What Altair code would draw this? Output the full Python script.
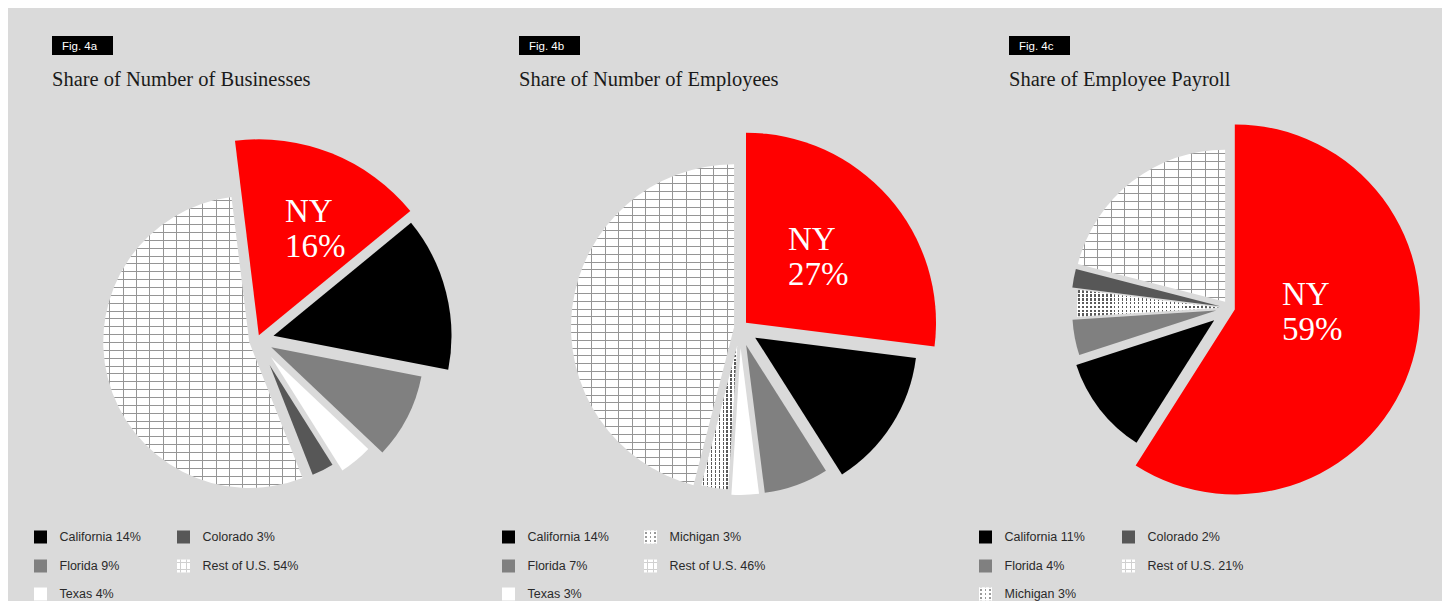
import math
import altair as alt
import pandas as pd

# ---------------- data ----------------
FIG_IDS = ["4a", "4b", "4c"]
FIG_LABELS = ["Fig. 4a", "Fig. 4b", "Fig. 4c"]
TITLES = ["Share of Number of Businesses", "Share of Number of Employees", "Share of Employee Payroll"]

STATES_4A = ["NY", "California", "Florida", "Texas", "Colorado", "Rest of U.S."]
SHARES_4A = [16, 14, 9, 4, 3, 54]
STATES_4B = ["NY", "California", "Florida", "Texas", "Michigan", "Rest of U.S."]
SHARES_4B = [27, 14, 7, 3, 3, 46]
STATES_4C = ["NY", "California", "Florida", "Michigan", "Colorado", "Rest of U.S."]
SHARES_4C = [59, 11, 4, 3, 2, 21]

STATES = {"4a": STATES_4A, "4b": STATES_4B, "4c": STATES_4C}
SHARES = {"4a": SHARES_4A, "4b": SHARES_4B, "4c": SHARES_4C}

# ---------------- style / layout ----------------
PAGE_W, PAGE_H, M = 1450, 609, 8
W, H = PAGE_W - 2 * M, PAGE_H - 2 * M
BG = "#DADADA"

FILL = {"NY": "#FF0000", "California": "#000000", "Florida": "#808080", "Texas": "#FFFFFF",
        "Colorado": "#575757", "Michigan": "#FFFFFF", "Rest of U.S.": "#FFFFFF"}
PATTERN = {"Michigan": "dots", "Rest of U.S.": "grid"}

LAYOUT = {
    "4a": dict(cx=257, cy=340, rot=-7.0, title_x=52, ny_x=285, ny_y=222, leg_x=[34, 177]),
    "4b": dict(cx=740, cy=328, rot=0.0, title_x=519, ny_x=788, ny_y=250, leg_x=[502, 644]),
    "4c": dict(cx=1230, cy=308, rot=0.0, title_x=1009, ny_x=1282, ny_y=305, leg_x=[979, 1122]),
}
# per slice: (outer radius px, explode distance px)
SLICE_STYLE = {
    "4a": {"NY": (196, 5), "California": (178, 17), "Florida": (153, 16), "Texas": (134, 22),
           "Colorado": (118, 28), "Rest of U.S.": (146, 8)},
    "4b": {"NY": (190, 8), "California": (162, 18), "Florida": (149, 18), "Texas": (147, 20),
           "Michigan": (144, 18), "Rest of U.S.": (163, 6)},
    "4c": {"NY": (185, 5), "California": (145, 20), "Florida": (144, 14), "Michigan": (143, 10),
           "Colorado": (149, 10), "Rest of U.S.": (152, 8)},
}
LEG_ROWS = [537, 566, 594]
SW = 13  # legend swatch size
GRID_DX, GRID_DY = 13.3, 7.8
GRID_COLOR = "#959595"
DOT_COLOR = "#5a5a5a"
CLEAR = "rgba(255,255,255,0)"

XS = alt.Scale(domain=[M, PAGE_W - M], range=[0, W], nice=False, zero=False)
YS = alt.Scale(domain=[M, PAGE_H - M], range=[0, H], nice=False, zero=False)
TS = alt.Scale(domain=[0, 100], range=[0, 2 * math.pi], nice=False, zero=False)
RS = alt.Scale(type="linear", domain=[0, 400], range=[0, 400], nice=False, zero=True)
CS = alt.Scale(domain=list(FILL.keys()), range=list(FILL.values()))


def stripes(n, frac, bg, fg, along_x):
    pts = [(0.0, bg)]
    for i in range(n):
        c = (i + 0.5) / n
        a, b = max(0.0, c - frac / 2), min(1.0, c + frac / 2)
        pts += [(a, bg), (a, fg), (b, fg), (b, bg)]
    pts.append((1.0, bg))
    return alt.Gradient(gradient="linear",
                        stops=[alt.GradientStop(offset=round(o, 5), color=col) for o, col in pts],
                        x1=0, y1=0, x2=1 if along_x else 0, y2=0 if along_x else 1)


def sector_bbox(ax, ay, r, a0, a1):
    xs, ys = [ax], [ay]
    for k in range(121):
        a = a0 + (a1 - a0) * k / 120
        xs.append(ax + r * math.sin(a))
        ys.append(ay - r * math.cos(a))
    return max(xs) - min(xs), max(ys) - min(ys)


# ---------------- tables ----------------
rows = []
for fig in FIG_IDS:
    L = LAYOUT[fig]
    for i, (s, v) in enumerate(zip(STATES[fig], SHARES[fig])):
        r, d = SLICE_STYLE[fig][s]
        rows.append(dict(fig=fig, state=s, share=v, order=i, r=r, d=d, cx=L["cx"], cy=L["cy"],
                         rot=L["rot"] / 360 * 100))
slices = pd.DataFrame(rows)

base = alt.Chart(slices).transform_window(
    cum="sum(share)", groupby=["fig"], sort=[alt.SortField("order")], frame=[None, 0]
).transform_calculate(
    t1="datum.cum + datum.rot",
    t0="datum.cum + datum.rot - datum.share",
).transform_calculate(
    mid="(datum.t0 + datum.t1) / 2 * PI / 50",
).transform_calculate(
    px="datum.cx + datum.d * sin(datum.mid)",
    py="datum.cy - datum.d * cos(datum.mid)",
)

arc_enc = dict(
    x=alt.X("px:Q", scale=XS, axis=None),
    y=alt.Y("py:Q", scale=YS, axis=None),
    theta=alt.Theta("t0:Q", scale=TS, stack=False),
    theta2=alt.Theta2("t1:Q"),
    radius=alt.Radius("r:Q", scale=RS),
)

layers = [base.mark_arc().encode(color=alt.Color("state:N", scale=CS, legend=None), **arc_enc)]

# pattern overlays on pies
for fig in FIG_IDS:
    L = LAYOUT[fig]
    cum = 0.0
    for s, v in zip(STATES[fig], SHARES[fig]):
        t0 = (cum + L["rot"] / 360 * 100) * math.pi / 50
        cum += v
        t1 = (cum + L["rot"] / 360 * 100) * math.pi / 50
        if s not in PATTERN:
            continue
        r, d = SLICE_STYLE[fig][s]
        mid = (t0 + t1) / 2
        ax, ay = L["cx"] + d * math.sin(mid), L["cy"] - d * math.cos(mid)
        bw, bh = sector_bbox(ax, ay, r, t0, t1)
        sel = base.transform_filter(f"datum.fig == '{fig}' && datum.state == '{s}'")
        if PATTERN[s] == "grid":
            g1 = stripes(max(1, round(bw / GRID_DX)), 1.0 / bw, CLEAR, GRID_COLOR, True)
            g2 = stripes(max(1, round(bh / GRID_DY)), 1.0 / bh, CLEAR, GRID_COLOR, False)
        else:
            g1 = stripes(max(1, round(bw / 4)), 1.5 / bw, CLEAR, DOT_COLOR, True)
            g2 = stripes(max(1, round(bh / 4)), 2.5 / bh, "#FFFFFF", CLEAR, False)
        layers.append(sel.mark_arc(fill=g1).encode(**arc_enc))
        layers.append(sel.mark_arc(fill=g2).encode(**arc_enc))

# NY labels
ny_rows = []
for fig in FIG_IDS:
    i = STATES[fig].index("NY")
    ny_rows.append(dict(x=LAYOUT[fig]["ny_x"], y=LAYOUT[fig]["ny_y"], text=f"NY\n{SHARES[fig][i]}%"))
layers.append(alt.Chart(pd.DataFrame(ny_rows)).mark_text(
    font="Liberation Serif", fontSize=33, color="#FFFFFF", align="left", baseline="alphabetic",
    lineBreak="\n", lineHeight=35
).encode(x=alt.X("x:Q", scale=XS, axis=None), y=alt.Y("y:Q", scale=YS, axis=None), text="text:N"))

# fig boxes and titles
head = pd.DataFrame([dict(x=LAYOUT[f]["title_x"], x2=LAYOUT[f]["title_x"] + 61, y=36, y2=55,
                          fig=FIG_LABELS[k], title=TITLES[k], ty=86)
                     for k, f in enumerate(FIG_IDS)])
hc = alt.Chart(head)
layers.append(hc.mark_rect(color="#000000").encode(
    x=alt.X("x:Q", scale=XS, axis=None), x2="x2:Q", y=alt.Y("y:Q", scale=YS, axis=None), y2="y2:Q"))
layers.append(hc.transform_calculate(fx="datum.x + 10", fy="datum.y + 14").mark_text(
    font="Liberation Sans", fontSize=11.5, color="#FFFFFF", align="left", baseline="alphabetic"
).encode(x=alt.X("fx:Q", scale=XS, axis=None), y=alt.Y("fy:Q", scale=YS, axis=None), text="fig:N"))
layers.append(hc.mark_text(
    font="Liberation Serif", fontSize=20.5, color="#1a1a1a", align="left", baseline="alphabetic"
).encode(x=alt.X("x:Q", scale=XS, axis=None), y=alt.Y("ty:Q", scale=YS, axis=None), text="title:N"))

# legends
leg_rows = []
for fig in FIG_IDS:
    L = LAYOUT[fig]
    k = 0
    for s, v in zip(STATES[fig], SHARES[fig]):
        if s == "NY":
            continue
        sx, sy = L["leg_x"][k // 3], LEG_ROWS[k % 3]
        leg_rows.append(dict(fig=fig, state=s, x=sx, x2=sx + SW, y=sy - SW / 2, y2=sy + SW / 2,
                             tx=sx + 25.5, ty=sy, label=f"{s} {v}%"))
        k += 1
leg = pd.DataFrame(leg_rows)
lc = alt.Chart(leg)
rect_enc = dict(x=alt.X("x:Q", scale=XS, axis=None), x2="x2:Q",
                y=alt.Y("y:Q", scale=YS, axis=None), y2="y2:Q")
layers.append(lc.mark_rect().encode(color=alt.Color("state:N", scale=CS, legend=None), **rect_enc))
grid_v = stripes(2, 1.0 / SW, CLEAR, "#d0d0d0", True)
grid_h = stripes(2, 1.0 / SW, CLEAR, "#d0d0d0", False)
dot_v = stripes(3, 1.6 / SW, CLEAR, "#9a9a9a", True)
dot_h = stripes(3, 2.2 / SW, "#FFFFFF", CLEAR, False)
for s, gs in [("Rest of U.S.", (grid_v, grid_h)), ("Michigan", (dot_v, dot_h))]:
    sel = lc.transform_filter(f"datum.state == '{s}'")
    for g in gs:
        layers.append(sel.mark_rect(fill=g).encode(**rect_enc))
layers.append(lc.mark_text(
    font="Liberation Sans", fontSize=12.5, color="#2a2a2a", align="left", baseline="middle"
).encode(x=alt.X("tx:Q", scale=XS, axis=None), y=alt.Y("ty:Q", scale=YS, axis=None), text="label:N"))

chart = alt.layer(*layers).properties(
    width=W, height=H, padding=0, autosize="none", background=BG
).configure_view(stroke=None)

chart.save("out.html", embed_options={"renderer": "svg", "actions": False})
